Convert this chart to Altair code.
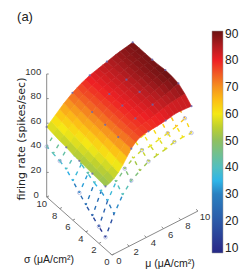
import altair as alt

mu_values = [0, 0.5, 1, 1.5, 2, 2.5, 3, 3.5, 4, 4.5, 5, 5.5, 6, 6.5, 7, 7.5, 8, 8.5, 9, 9.5, 10]
sigma_values = [1, 2, 3, 4, 5, 6, 7, 8, 9, 10]
mesh_mu = [0, 1, 2, 3, 4, 5, 6, 7, 8, 9, 10]

# firing rate, upper surface: one row per sigma, one column per mu
upper_rate = [
    [51, 52, 54, 57, 61, 66, 71, 74.5, 76.5, 77.5, 78, 78.3, 78.5, 79, 79.5, 80.2, 81, 81.2, 81, 80.8, 80.5],
    [51.5, 53, 55, 58, 62, 66.5, 71, 74.5, 76.5, 77.8, 78.5, 79.3, 80, 81, 82, 83, 84, 84.5, 85, 85.4, 85.7],
    [52, 53.7, 56, 59, 63, 67, 71, 74.3, 76.5, 78, 79, 80, 81, 82, 83, 84, 85, 86, 87, 88.4, 89.6],
    [52.5, 54.5, 57, 60, 64, 67.5, 71, 74, 76.5, 78.2, 79.5, 80.5, 81.5, 82.5, 83.5, 84.7, 86, 87.3, 88.5, 89.7, 90.7],
    [53, 55.3, 58, 61.3, 65, 68.2, 71.5, 74.2, 76.5, 78.4, 80, 81, 82, 83, 84, 85.2, 86.5, 87.8, 89, 90, 91],
    [53.5, 56, 59, 62.2, 65.5, 68.8, 72, 74.6, 77, 78.6, 80, 81, 82, 83.2, 84.5, 85.7, 87, 88, 89, 89.7, 90.3],
    [54.5, 57, 60, 63, 66, 69.3, 72.5, 75, 77, 78.6, 80, 81.2, 82.5, 83.5, 84.5, 85.7, 87, 88, 89, 89.5, 90],
    [55, 58, 61, 64, 67, 70, 73, 75.4, 77.5, 79, 80.5, 81.5, 82.5, 83.6, 84.7, 85.9, 87, 87.9, 88.8, 89.4, 90],
    [56, 59, 62, 65, 68, 70.8, 73.5, 75.6, 77.5, 79, 80.5, 81.8, 83, 84, 85, 86, 87, 87.8, 88.6, 89.3, 90],
    [57, 60, 63, 66, 69, 71.5, 74, 76, 78, 79.5, 81, 82, 83, 84, 85, 86, 87, 87.8, 88.5, 89.2, 90],
]
# firing rate, lower dashed mesh
lower_rate = [
    [9.7, 25, 37, 45, 49.5, 53.5, 55, 56.3, 58.6, 58.9, 58.8],
    [13.6, 31, 43, 50, 55, 58, 57.7, 59.6, 60.9, 62.8, 66],
    [17.6, 34, 45, 52, 57, 60, 62, 64, 66, 68, 70],
    [21.8, 36, 47, 54, 59, 62, 64, 66, 68, 70, 72],
    [27, 39, 49, 56, 60, 63, 66, 68, 70, 72, 74],
    [32, 42, 51, 57, 61, 64, 67, 69, 71, 73, 75],
    [36.7, 45, 52, 58, 62, 65, 68, 70, 72, 74, 76],
    [38.7, 47, 54, 59, 63, 66, 69, 71, 73, 75, 77],
    [40, 48, 55, 60, 64, 67, 70, 72, 74, 76, 78],
    [41, 49, 56, 61, 65, 68, 71, 73, 75, 77, 79],
]
marker_mu = [0, 3, 5, 7, 10]
marker_sigma = [1, 3, 5, 7, 10]
lower_marker_mu = [0, 3, 5, 8, 10]
lower_marker_sigma = [1, 2, 5, 8, 10]

rate_ticks = [0, 20, 40, 60, 80, 100]
input_ticks = [0, 2, 4, 6, 8, 10]
bar_ticks = [10, 20, 30, 40, 50, 60, 70, 80, 90]

scale_stops = [8, 10, 20, 30, 35, 40, 50, 55, 60, 65, 70, 75, 80, 85, 91]
scale_colors = ["#262a86", "#2a2f8c", "#2c5aa8", "#2a80c0", "#2eb5e8", "#52bfc0",
                "#8fc060", "#bdd030", "#f5e815", "#fcc015", "#f6921e", "#f15a24",
                "#ee2024", "#b51c20", "#6a1212"]
color_scale = alt.Scale(domain=scale_stops, range=scale_colors, interpolate="rgb", clamp=True)
bar_legend = alt.Legend(
    type="gradient", title=None, orient="none", legendX=204, legendY=23, gradientLength=222,
    gradientThickness=11, values=bar_ticks, labelFont="Liberation Sans",
    labelFontSize=12, labelColor="#222222", labelOffset=2, labelOverlap=False,
    gradientStrokeColor="#999999", gradientStrokeWidth=0.5,
)
plain_color = alt.Color("properties.z:Q", scale=color_scale, legend=None)


def view(mu, sigma, rate):
    """Fixed oblique 3-D view, returned in page pixels."""
    return [112 + 8.6 * mu - 6.53 * sigma, 255 - 4.4 * mu - 5.8 * sigma - 1.23 * rate]


def feature(kind, coords, **props):
    return {"type": "Feature", "properties": props, "geometry": {"type": kind, "coordinates": coords}}


faces = []
for i in range(len(sigma_values) - 2, -1, -1):
    for j in range(len(mu_values) - 1):
        corners = [(i, j), (i, j + 1), (i + 1, j + 1), (i + 1, j)]
        ring = [view(mu_values[c], sigma_values[r], upper_rate[r][c]) for r, c in corners]
        mean = sum(upper_rate[r][c] for r, c in corners) / 4
        faces.append(feature("Polygon", [ring + [ring[0]]], z=mean))

edges = []
for i, s in enumerate(sigma_values):
    for j, m in enumerate(mesh_mu):
        if j + 1 < len(mesh_mu):
            edges.append(feature("LineString",
                                 [view(m, s, lower_rate[i][j]), view(mesh_mu[j + 1], s, lower_rate[i][j + 1])],
                                 z=(lower_rate[i][j] + lower_rate[i][j + 1]) / 2))
        if i + 1 < len(sigma_values):
            edges.append(feature("LineString",
                                 [view(m, s, lower_rate[i][j]), view(m, sigma_values[i + 1], lower_rate[i + 1][j])],
                                 z=(lower_rate[i][j] + lower_rate[i + 1][j]) / 2))

axes = [
    feature("LineString", [view(0, 10, 0), view(0, 10, 100)]),
    feature("LineString", [view(0, 0, 0), view(0, 10, 0)]),
    feature("LineString", [view(0, 0, 0), view(10, 0, 0)]),
]
for r in rate_ticks:
    p = view(0, 10, r)
    axes.append(feature("LineString", [p, [p[0] + 2, p[1]]]))
for t in input_ticks:
    axes.append(feature("LineString", [view(0, t, 0), view(0.25, t, 0)]))
    axes.append(feature("LineString", [view(t, 0, 0), view(t, 0.3, 0)]))

right_labels = []
center_labels = []
for r in rate_ticks:
    p = view(0, 10, r)
    right_labels.append({"lon": p[0] - (5.5 if r else 8), "lat": p[1] - 2.5, "label": str(r)})
for t in input_ticks:
    p = view(0, t, 0)
    center_labels.append({"lon": p[0] - 5, "lat": p[1] + 7, "label": str(t)})
    p = view(t, 0, 0)
    center_labels.append({"lon": p[0] + 7, "lat": p[1] + 6, "label": str(t)})

top_markers = []
for s in marker_sigma:
    for m in marker_mu:
        p = view(m, s, upper_rate[sigma_values.index(s)][mu_values.index(m)])
        top_markers.append({"lon": p[0], "lat": p[1]})
low_markers = []
for s in lower_marker_sigma:
    for m in lower_marker_mu:
        p = view(m, s, lower_rate[sigma_values.index(s)][mesh_mu.index(m)])
        low_markers.append({"lon": p[0], "lat": p[1]})

titles = [
    {"lon": 25, "lat": 17, "label": "(a)", "size": 13},
    {"lon": 49, "lat": 260, "label": "σ (μA/cm²)", "size": 10.5},
    {"lon": 170, "lat": 264, "label": "μ (μA/cm²)", "size": 10.5},
]
side_title = [{"lon": 22, "lat": 139, "label": "firing rate (spikes/sec)"}]

proj = dict(type="identity", scale=1, translate=[-8, -8])

axes_layer = alt.Chart(alt.Data(values=axes)).mark_geoshape(
    filled=False, stroke="#8a8a8a", strokeWidth=1).project(**proj)

mesh_layer = alt.Chart(alt.Data(values=edges)).mark_geoshape(
    filled=False, strokeWidth=1.4, strokeDash=[4, 4.5], strokeDashOffset=2).encode(
    color=plain_color).project(**proj)

low_layer = alt.Chart(alt.Data(values=low_markers)).mark_point(
    shape="circle", size=12, filled=False, stroke="#9fa6d8", strokeWidth=1).encode(
    longitude="lon:Q", latitude="lat:Q").project(**proj)

surface_layer = alt.Chart(alt.Data(values=faces)).mark_geoshape(stroke=None).encode(
    color=alt.Color("properties.z:Q", scale=color_scale, legend=bar_legend)).project(**proj)

seam_layer = alt.Chart(alt.Data(values=faces)).mark_geoshape(
    filled=False, strokeWidth=0.6).encode(color=plain_color).project(**proj)

top_layer = alt.Chart(alt.Data(values=top_markers)).mark_point(
    shape="circle", size=5, filled=True, color="#6468b4", opacity=0.8).encode(
    longitude="lon:Q", latitude="lat:Q").project(**proj)

label_right = alt.Chart(alt.Data(values=right_labels)).mark_text(
    font="Liberation Sans", fontSize=9.5, color="#333333", baseline="middle", align="right").encode(
    longitude="lon:Q", latitude="lat:Q", text="label:N").project(**proj)
label_center = alt.Chart(alt.Data(values=center_labels)).mark_text(
    font="Liberation Sans", fontSize=9.5, color="#333333", baseline="middle", align="center").encode(
    longitude="lon:Q", latitude="lat:Q", text="label:N").project(**proj)

title_layers = [
    alt.Chart(alt.Data(values=[t])).mark_text(
        font="Liberation Sans", fontSize=t["size"], color="#222222", baseline="middle", align="center").encode(
        longitude="lon:Q", latitude="lat:Q", text="label:N").project(**proj)
    for t in titles
]
side_layer = alt.Chart(alt.Data(values=side_title)).mark_text(
    font="DejaVu Sans", fontSize=11, color="#222222", baseline="middle", align="center", angle=270).encode(
    longitude="lon:Q", latitude="lat:Q", text="label:N").project(**proj)

chart = alt.layer(
    axes_layer, mesh_layer, low_layer, surface_layer, seam_layer, top_layer,
    label_right, label_center, *title_layers, side_layer,
).resolve_legend(color="independent").properties(
    width=233, height=261, autosize=alt.AutoSizeParams(type="none"), padding=0, background="white",
).configure_view(stroke=None)

chart.save("out.html", embed_options={"renderer": "svg", "actions": False})
